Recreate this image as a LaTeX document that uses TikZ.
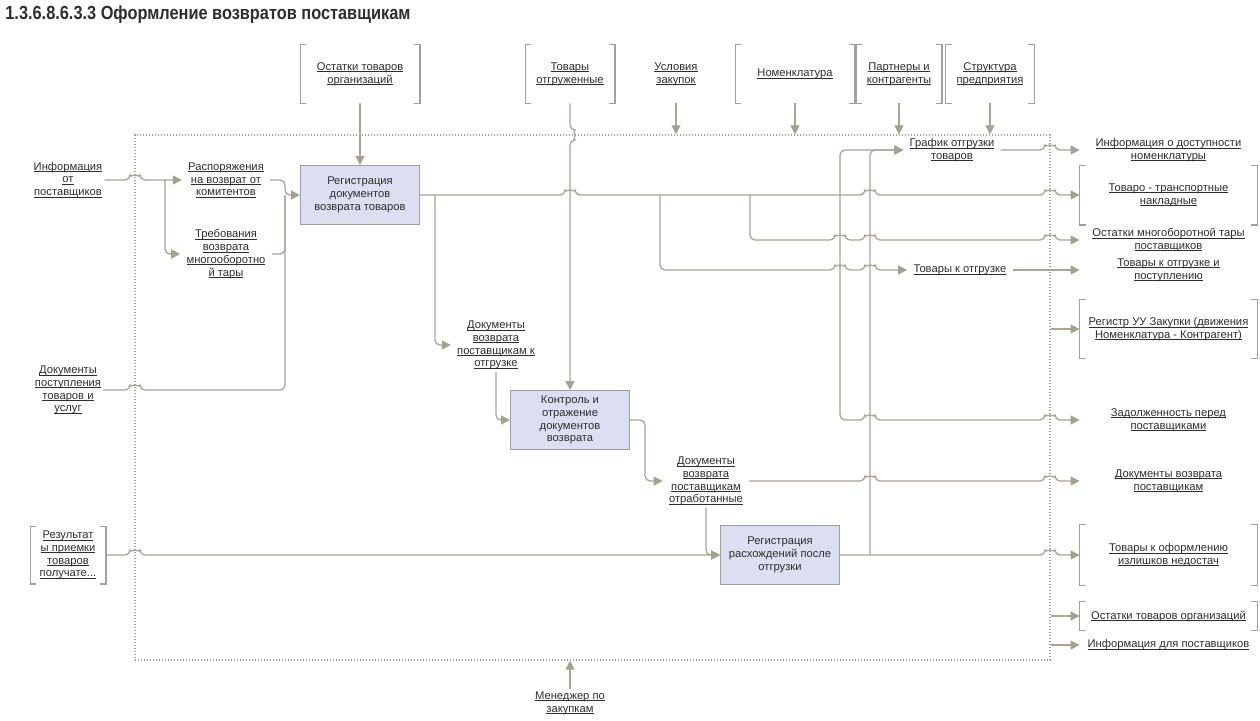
\documentclass[tikz,border=0pt]{standalone}
\usepackage{fontspec}
\setmainfont{Liberation Sans}
\newfontfamily\titlefont[FakeStretch=0.86]{Liberation Sans}
\usetikzlibrary{arrows.meta}
\definecolor{ln}{HTML}{A8A596}
\definecolor{arr}{HTML}{A3A18F}
\definecolor{boxf}{HTML}{DCDEF1}
\definecolor{boxd}{HTML}{9E9E9E}
\definecolor{brc}{HTML}{A0A0A0}
\definecolor{txt}{HTML}{2E2E2E}
\newcommand\lblfont{\fontsize{5.6}{6.4}\selectfont}
\newcommand\ulin[1]{\leavevmode\setbox0\hbox{#1}\rlap{\rule[-0.8pt]{\wd0}{0.3pt}}\box0}
\newcommand\hh[2]{-- (#1-5,#2) arc[start angle=180,end angle=0,radius=2.5pt]}
\newcommand\vh[2]{-- (#1,#2-5) arc[start angle=90,end angle=-90,radius=2.5pt]}
\newcommand\brk[1]{%
  \draw[brc,line width=0.6pt] ([xshift=3pt]#1.north west) -- (#1.north west) -- (#1.south west) -- ([xshift=3pt]#1.south west);
  \draw[brc,line width=0.6pt] ([xshift=-3pt]#1.north east) -- (#1.north east) -- (#1.south east) -- ([xshift=-3pt]#1.south east);}
\begin{document}
\begin{tikzpicture}[x=0.5pt,y=-0.5pt,
  line/.style={draw=ln,line width=0.65pt,rounded corners=2.5pt},
  conn/.style={line,-{Triangle[length=4.5pt,width=4.5pt,color=arr]}},
  lbl/.style={font=\lblfont,text=txt,align=center,inner xsep=3pt,inner ysep=1pt},
  proc/.style={draw=boxd,fill=boxf,line width=0.5pt,minimum width=59.5pt,minimum height=29.5pt,align=center,font=\lblfont,text=txt,inner sep=1pt},
  outl/.style={lbl,minimum width=88.5pt},
  frm/.style={draw=brc,line width=0.7pt,dash pattern=on 0.6pt off 0.9pt,minimum width=457.5pt,minimum height=262.5pt,inner sep=0pt}
]
\useasboundingbox (0,0) rectangle (1260,720);
\fill[white] (0,0) rectangle (1260,720);

\node[anchor=west,inner sep=0pt,font=\titlefont\bfseries\fontsize{9.5}{11}\selectfont,text=txt] (title) at (5,15) {1.3.6.8.6.3.3 Оформление возвратов поставщикам};

% frame
\node[frm] (F) at (592.5,397.5) {};

% process boxes
\node[proc] (A) at (360,195) {Регистрация\\документов\\возврата товаров};
\node[proc] (B) at (570,420) {Контроль и\\отражение\\документов\\возврата};
\node[proc] (C) at (780,555) {Регистрация\\расхождений после\\отгрузки};

% top inputs / controls
\node[lbl,minimum width=59.5pt,minimum height=29pt] (tOst) at (360,74) {\ulin{Остатки товаров}\\\ulin{организаций}};
\node[lbl,minimum width=44.5pt,minimum height=29pt] (tTov) at (570,74) {\ulin{Товары}\\\ulin{отгруженные}};
\node[lbl,minimum height=29pt] (tUsl) at (676,74) {\ulin{Условия}\\\ulin{закупок}};
\node[lbl,minimum width=59.5pt,minimum height=29pt] (tNom) at (795,74) {\ulin{Номенклатура}};
\node[lbl,minimum width=42.5pt,minimum height=29pt] (tPar) at (899,74) {\ulin{Партнеры и}\\\ulin{контрагенты}};
\node[lbl,minimum width=44pt,minimum height=29pt] (tStr) at (990,74) {\ulin{Структура}\\\ulin{предприятия}};
\brk{tOst}\brk{tTov}\brk{tNom}\brk{tPar}\brk{tStr}

% left inputs
\node[lbl,inner xsep=1pt] (lInf) at (68,180) {\ulin{Информация}\\\ulin{от}\\\ulin{поставщиков}};
\node[lbl,inner xsep=1pt] (lDoc) at (68,390) {\ulin{Документы}\\\ulin{поступления}\\\ulin{товаров и}\\\ulin{услуг}};
\node[lbl,minimum width=37.5pt,minimum height=28.5pt] (lRes) at (68,555) {\ulin{Результат}\\\ulin{ы приемки}\\\ulin{товаров}\\\ulin{получате...}};
\brk{lRes}

% intermediate labels
\node[lbl] (Rasp) at (226,180) {\ulin{Распоряжения}\\\ulin{на возврат от}\\\ulin{комитентов}};
\node[lbl] (Treb) at (226,254) {\ulin{Требования}\\\ulin{возврата}\\\ulin{многооборотно}\\\ulin{й тары}};
\node[lbl] (mDK) at (496,345) {\ulin{Документы}\\\ulin{возврата}\\\ulin{поставщикам к}\\\ulin{отгрузке}};
\node[lbl] (mDO) at (706,481) {\ulin{Документы}\\\ulin{возврата}\\\ulin{поставщикам}\\\ulin{отработанные}};
\node[lbl] (rGraf) at (952,150) {\ulin{График отгрузки}\\\ulin{товаров}};
\node[lbl] (rTovO) at (960,270) {\ulin{Товары к отгрузке}};

% right outputs
\node[outl] (oInf) at (1168.5,150) {\ulin{Информация о доступности}\\\ulin{номенклатуры}};
\node[outl,minimum height=29.5pt] (oTTN) at (1168.5,195) {\ulin{Товаро - транспортные}\\\ulin{накладные}};
\node[outl] (oOMT) at (1168.5,240) {\ulin{Остатки многоборотной тары}\\\ulin{поставщиков}};
\node[outl] (oTOP) at (1168.5,270) {\ulin{Товары к отгрузке и}\\\ulin{поступлению}};
\node[outl,minimum height=29pt] (oReg) at (1168.5,329) {\ulin{Регистр УУ Закупки (движения}\\\ulin{Номенклатура - Контрагент)}};
\node[outl] (oZad) at (1168.5,420) {\ulin{Задолженность перед}\\\ulin{поставщиками}};
\node[outl] (oDV) at (1168.5,481) {\ulin{Документы возврата}\\\ulin{поставщикам}};
\node[outl,minimum height=30pt] (oTOI) at (1168.5,555) {\ulin{Товары к оформлению}\\\ulin{излишков недостач}};
\node[outl,minimum height=14pt] (oOTO) at (1168.5,616) {\ulin{Остатки товаров организаций}};
\node[outl] (oIDP) at (1168.5,645) {\ulin{Информация для поставщиков}};
\brk{oTTN}\brk{oReg}\brk{oTOI}\brk{oOTO}

% bottom mechanism
\node[lbl] (bMen) at (570,703) {\ulin{Менеджер по}\\\ulin{закупкам}};

% junction coordinates
\coordinate (j1) at (165,180);
\coordinate (j2) at (285,195);
\coordinate (jA1) at (435,195);
\coordinate (jA2) at (660,195);
\coordinate (jA3) at (750,195);
\coordinate (jA4) at (840,195);
\coordinate (jC) at (870,555);

% top arrows
\draw[conn] (tOst.south) -- (A.north);
\draw[conn] (tTov.south) \vh{570}{135} -- (B.north);
\draw[conn] (tUsl.south) -- (tUsl.south |- F.north);
\draw[conn] (tNom.south) -- (tNom.south |- F.north);
\draw[conn] (tPar.south) -- (tPar.south |- F.north);
\draw[conn] (tStr.south) -- (tStr.south |- F.north);

% left side
\draw[conn] (lInf.east) \hh{135}{180} -- (Rasp.west);
\draw[conn] (j1) |- (Treb.west);
\draw[conn] (Rasp.east) -| (j2) -- (A.west);
\draw[line] (Treb.east) -| (j2);
\draw[line] (lDoc.east) \hh{135}{390} -| (j2);
\draw[conn] (lRes.east) \hh{135}{555} -- (C.west);

% outputs of A
\draw[conn] (A.east) \hh{570}{195} \hh{870}{195} \hh{1050}{195} -- (oTTN.west);
\draw[conn] (jA1) |- (mDK.west);
\draw[conn] (jA2) -- (660,270) \hh{840}{270} \hh{870}{270} -- (rTovO.west);
\draw[conn] (jA3) -- (750,240) \hh{840}{240} \hh{870}{240} \hh{1050}{240} -- (oOMT.west);
\draw[conn] (jA4) |- (rGraf.west);
\draw[conn] (jA4) -- (840,420) \hh{870}{420} \hh{1050}{420} -- (oZad.west);

% B and C flows
\draw[conn] (mDK.south) |- (B.west);
\draw[conn] (B.east) -- (645,420) |- (mDO.west);
\draw[conn] (mDO.east) \hh{870}{481} \hh{1050}{481} -- (oDV.west);
\draw[conn] (mDO.south) |- (C.west);
\draw[conn] (C.east) \hh{1050}{555} -- (oTOI.west);
\draw[conn] (jC) |- (rGraf.west);

% right side
\draw[conn] (rGraf.east) \hh{1050}{150} -- (oInf.west);
\draw[conn] (rTovO.east) -- (oTOP.west);
\draw[conn] (F.east |- oReg.west) -- (oReg.west);
\draw[conn] (F.east |- oOTO.west) -- (oOTO.west);
\draw[conn] (F.east |- oIDP.west) -- (oIDP.west);

% bottom
\draw[conn] (bMen.north) -- (bMen.north |- F.south);
\end{tikzpicture}
\end{document}
